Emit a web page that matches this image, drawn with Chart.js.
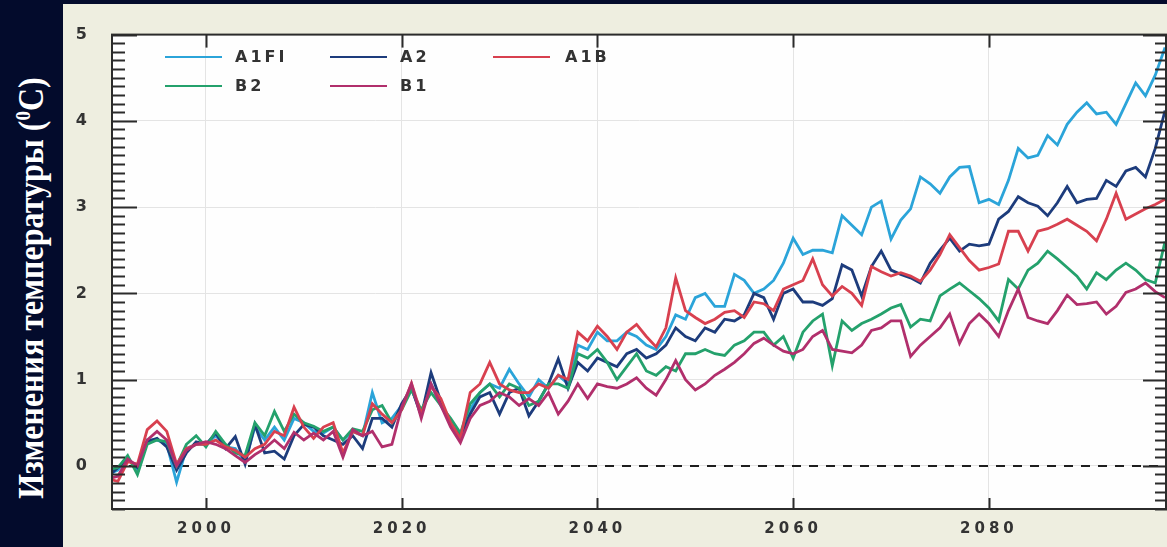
<!DOCTYPE html>
<html>
<head>
<meta charset="utf-8">
<script src="https://cdn.jsdelivr.net/npm/chart.js@4/dist/chart.umd.min.js"></script>
<style>
  html, body { margin: 0; padding: 0; width: 1167px; height: 547px; overflow: hidden; background: #030b2c; }
  #panel { position: absolute; left: 63px; top: 4px; width: 1104px; height: 543px; background: #eeeee0; }
  #ytitle {
    position: absolute; left: 31px; top: 288px;
    transform: translate(-50%, -50%) scaleX(1.1) rotate(-90deg);
    white-space: nowrap; color: #fff;
    font: bold 32px "Liberation Serif", "DejaVu Serif", serif;
  }
  #ytitle sup { font-size: 0.6em; }
  canvas { display: block; }
</style>
</head>
<body>
<div id="ytitle">Изменения температуры (<sup>0</sup>С)</div>
<div id="panel"><canvas id="c" width="1104" height="543"></canvas></div>
<script>
// Years of the projection runs
const years = [
  1990,1991,1992,1993,1994,1995,1996,1997,1998,1999,
  2000,2001,2002,2003,2004,2005,2006,2007,2008,2009,
  2010,2011,2012,2013,2014,2015,2016,2017,2018,2019,
  2020,2021,2022,2023,2024,2025,2026,2027,2028,2029,
  2030,2031,2032,2033,2034,2035,2036,2037,2038,2039,
  2040,2041,2042,2043,2044,2045,2046,2047,2048,2049,
  2050,2051,2052,2053,2054,2055,2056,2057,2058,2059,
  2060,2061,2062,2063,2064,2065,2066,2067,2068,2069,
  2070,2071,2072,2073,2074,2075,2076,2077,2078,2079,
  2080,2081,2082,2083,2084,2085,2086,2087,2088,2089,
  2090,2091,2092,2093,2094,2095,2096,2097,2098
];

// Temperature change (°C) for each SRES scenario
const A1FI = [
  -0.10,-0.05,0.10,-0.05,0.30,0.30,0.25,-0.19,0.20,0.25,
  0.25,0.35,0.22,0.20,0.05,0.45,0.30,0.45,0.30,0.55,
  0.50,0.40,0.38,0.45,0.30,0.40,0.35,0.85,0.50,0.55,
  0.70,0.90,0.60,0.95,0.70,0.50,0.30,0.65,0.85,0.95,
  0.90,1.12,0.95,0.80,1.00,0.90,1.05,0.95,1.40,1.35,
  1.55,1.45,1.45,1.55,1.50,1.40,1.35,1.50,1.75,1.70,
  1.95,2.00,1.85,1.85,2.22,2.15,2.00,2.05,2.15,2.35,
  2.64,2.45,2.50,2.50,2.47,2.90,2.79,2.68,3.00,3.07,
  2.63,2.85,2.98,3.35,3.27,3.16,3.35,3.46,3.47,3.05,
  3.09,3.03,3.31,3.68,3.57,3.60,3.83,3.72,3.96,4.10,
  4.21,4.08,4.10,3.96,4.20,4.44,4.29,4.53,4.85
];
const A2 = [
  -0.12,-0.02,0.08,-0.02,0.28,0.32,0.22,-0.05,0.15,0.28,
  0.25,0.38,0.20,0.34,0.02,0.48,0.15,0.17,0.08,0.35,
  0.48,0.45,0.35,0.30,0.25,0.35,0.20,0.55,0.55,0.45,
  0.72,0.90,0.58,1.08,0.75,0.48,0.35,0.60,0.80,0.85,
  0.60,0.85,0.90,0.58,0.75,0.95,1.24,0.90,1.20,1.10,
  1.25,1.20,1.15,1.30,1.35,1.25,1.30,1.40,1.60,1.50,
  1.45,1.60,1.55,1.70,1.68,1.75,2.00,1.95,1.70,2.00,
  2.05,1.90,1.90,1.86,1.94,2.33,2.27,1.97,2.31,2.49,
  2.27,2.22,2.18,2.12,2.35,2.50,2.64,2.49,2.57,2.55,
  2.57,2.86,2.95,3.12,3.05,3.01,2.90,3.05,3.24,3.05,
  3.09,3.10,3.31,3.24,3.42,3.46,3.35,3.68,4.12
];
const A1B = [
  -0.15,-0.18,0.05,0.02,0.42,0.52,0.40,0.02,0.20,0.25,
  0.25,0.30,0.22,0.18,0.10,0.20,0.25,0.40,0.35,0.68,
  0.45,0.32,0.45,0.50,0.15,0.40,0.35,0.72,0.60,0.50,
  0.65,0.96,0.60,0.92,0.78,0.50,0.32,0.85,0.95,1.20,
  0.95,0.88,0.85,0.85,0.95,0.90,1.05,1.00,1.55,1.45,
  1.62,1.50,1.35,1.55,1.64,1.50,1.38,1.60,2.18,1.80,
  1.72,1.65,1.70,1.78,1.80,1.72,1.90,1.88,1.80,2.05,
  2.10,2.15,2.40,2.10,1.97,2.08,2.00,1.86,2.31,2.25,
  2.20,2.24,2.20,2.14,2.27,2.45,2.68,2.53,2.38,2.27,
  2.30,2.34,2.72,2.72,2.49,2.72,2.75,2.80,2.86,2.79,
  2.72,2.61,2.86,3.16,2.86,2.92,2.98,3.03,3.09
];
const B2 = [
  -0.05,-0.02,0.12,-0.10,0.25,0.30,0.28,0.00,0.25,0.35,
  0.22,0.40,0.25,0.15,0.12,0.50,0.35,0.63,0.40,0.60,
  0.50,0.46,0.40,0.45,0.30,0.43,0.40,0.65,0.70,0.50,
  0.65,0.88,0.65,0.85,0.70,0.55,0.38,0.72,0.85,0.95,
  0.80,0.95,0.90,0.70,0.75,0.95,0.95,0.90,1.30,1.25,
  1.35,1.20,1.00,1.15,1.30,1.10,1.05,1.15,1.10,1.30,
  1.30,1.35,1.30,1.28,1.40,1.45,1.55,1.55,1.40,1.50,
  1.25,1.55,1.68,1.76,1.16,1.68,1.57,1.65,1.70,1.76,
  1.83,1.87,1.61,1.70,1.68,1.97,2.05,2.12,2.03,1.94,
  1.83,1.68,2.16,2.05,2.27,2.35,2.49,2.40,2.30,2.20,
  2.05,2.24,2.16,2.27,2.35,2.27,2.16,2.12,2.60
];
const B1 = [
  -0.15,-0.12,0.08,0.00,0.30,0.40,0.30,0.00,0.18,0.25,
  0.28,0.25,0.20,0.12,0.04,0.13,0.20,0.30,0.20,0.39,
  0.30,0.38,0.30,0.40,0.10,0.42,0.35,0.40,0.22,0.25,
  0.68,0.95,0.55,0.95,0.70,0.45,0.27,0.55,0.70,0.75,
  0.85,0.80,0.70,0.78,0.70,0.85,0.60,0.75,0.95,0.78,
  0.95,0.92,0.90,0.95,1.02,0.90,0.82,1.00,1.22,1.00,
  0.88,0.95,1.05,1.12,1.20,1.30,1.42,1.48,1.40,1.33,
  1.30,1.35,1.50,1.57,1.35,1.33,1.31,1.40,1.57,1.60,
  1.68,1.68,1.27,1.40,1.50,1.60,1.76,1.42,1.65,1.76,
  1.65,1.50,1.80,2.05,1.72,1.68,1.65,1.80,1.98,1.87,
  1.88,1.90,1.76,1.85,2.01,2.05,2.12,2.02,1.95
];

const seriesNames = ['A1FI', 'A2', 'A1B', 'B2', 'B1'];
const seriesValues = [A1FI, A2, A1B, B2, B1];

// Axis tick labels
const xTicks = [2000, 2020, 2040, 2060, 2080];
const yTicks = [0, 1, 2, 3, 4, 5];

// Styling
const lineColors = ['#2ba4d9', '#1d3c7c', '#d8404f', '#24a16c', '#b12f6c'];
const drawOrder = [5, 4, 2, 3, 1];
const inkColor = '#2b2b2b';
const labelFont = '"DejaVu Sans", Verdana, sans-serif';

// Legend placement: two rows, three columns
const legendRows = [53, 82];
const legendCols = [{ line: 102, text: 172 }, { line: 267, text: 337 }, { line: 430, text: 502 }];
const legendLineLen = 57;

function seg(c, x1, y1, x2, y2) {
  c.beginPath(); c.moveTo(x1, y1); c.lineTo(x2, y2); c.stroke();
}

const framePlugin = {
  id: 'frame',
  beforeDraw(chart) {
    const c = chart.ctx, a = chart.chartArea;
    c.letterSpacing = '4px';
    c.save();
    c.fillStyle = '#fefefe';
    c.fillRect(a.left, a.top, a.right - a.left, a.bottom - a.top);
    c.restore();
  },
  beforeDatasetsDraw(chart) {
    const c = chart.ctx, a = chart.chartArea;
    const y0 = Math.round(chart.scales.y.getPixelForValue(0));
    c.save();
    c.strokeStyle = '#1e1e1e';
    c.lineWidth = 2;
    c.setLineDash([9, 8]);
    seg(c, a.left, y0, a.right, y0);
    c.restore();
  },
  afterDatasetsDraw(chart) {
    const c = chart.ctx, a = chart.chartArea;
    const xs = chart.scales.x, ys = chart.scales.y;
    c.save();
    c.strokeStyle = inkColor;
    c.lineWidth = 2;
    // minor / major ticks on the left and right axes, pointing inward
    for (let k = -5; k <= 50; k++) {
      const py = Math.round(ys.getPixelForValue(k / 10)) + 0.5;
      const major = k % 10 === 0;
      seg(c, a.left, py, a.left + (major ? 25 : 13), py);
      seg(c, a.right, py, a.right - (major ? 24 : 12), py);
    }
    // year ticks on the top and bottom axes
    xTicks.forEach(v => {
      const px = Math.round(xs.getPixelForValue(v)) + 0.5;
      seg(c, px, a.top, px, a.top + 13);
      seg(c, px, a.bottom, px, a.bottom - 11);
    });
    // frame
    c.strokeRect(a.left, a.top, a.right - a.left - 1, a.bottom - a.top);

    // legend
    c.font = 'bold 16px ' + labelFont;
    c.textBaseline = 'middle';
    c.textAlign = 'left';
    c.letterSpacing = '3px';
    seriesNames.forEach((name, i) => {
      const row = i < 3 ? 0 : 1;
      const col = i < 3 ? i : i - 3;
      const y = legendRows[row];
      const colPos = legendCols[col];
      c.strokeStyle = lineColors[i];
      c.lineWidth = 2;
      seg(c, colPos.line, y, colPos.line + legendLineLen, y);
      c.fillStyle = '#333';
      c.fillText(name, colPos.text, y + 1);
    });
    c.restore();
  }
};

new Chart(document.getElementById('c'), {
  type: 'line',
  data: {
    datasets: seriesNames.map((name, i) => ({
      label: name,
      data: years.map((yr, j) => ({ x: yr, y: seriesValues[i][j] })),
      borderColor: lineColors[i],
      backgroundColor: lineColors[i],
      borderWidth: 2.8,
      pointRadius: 0,
      tension: 0,
      fill: false,
      order: drawOrder[i]
    }))
  },
  options: {
    responsive: false,
    animation: false,
    devicePixelRatio: 1,
    events: [],
    layout: { padding: { left: 0, top: 9, right: 0, bottom: 0 } },
    plugins: { legend: { display: false }, tooltip: { enabled: false } },
    scales: {
      x: {
        type: 'linear', min: 1990.4, max: 2098.2,
        afterBuildTicks: s => { s.ticks = xTicks.map(v => ({ value: v })); },
        afterFit: s => { s.height = 38; },
        grid: { color: '#e4e4e4', lineWidth: 1, drawTicks: false },
        border: { display: false },
        ticks: {
          font: { family: labelFont, weight: 'bold', size: 15 },
          color: '#333', padding: 11, maxRotation: 0, autoSkip: false,
          callback: v => String(v)
        }
      },
      y: {
        type: 'linear', min: -0.5, max: 5,
        afterBuildTicks: s => { s.ticks = yTicks.map(v => ({ value: v })); },
        afterFit: s => { s.width = 49; },
        grid: { color: '#e4e4e4', lineWidth: 1, drawTicks: false },
        border: { display: false },
        ticks: {
          font: { family: labelFont, weight: 'bold', size: 16 },
          color: '#333', padding: 21,
          callback: v => String(v)
        }
      }
    }
  },
  plugins: [framePlugin]
});
</script>
</body>
</html>
